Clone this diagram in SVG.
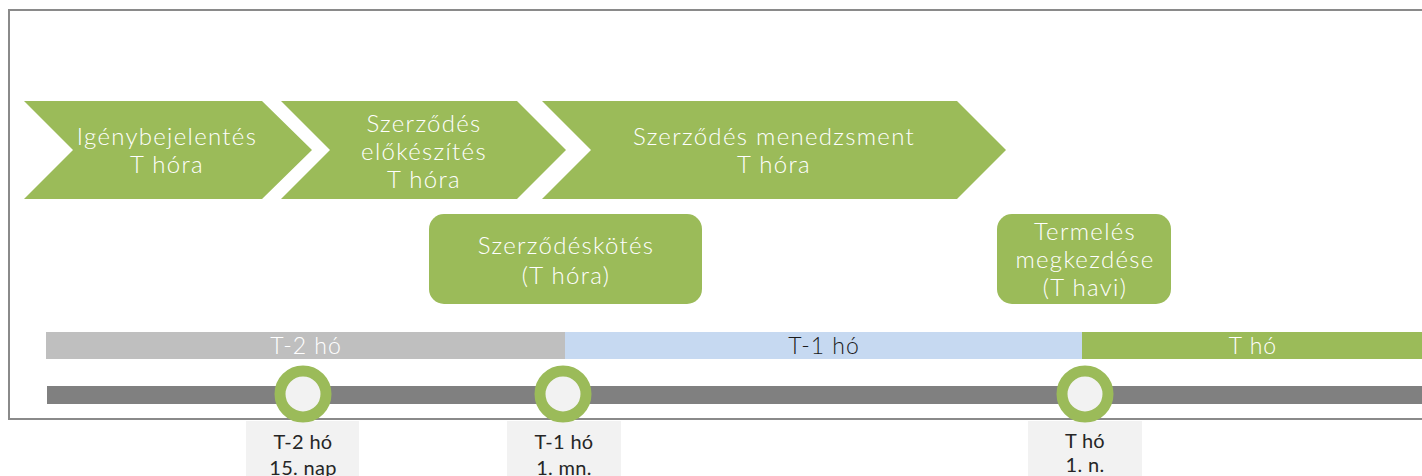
<svg xmlns="http://www.w3.org/2000/svg" width="1422" height="476" viewBox="0 0 1422 476">
  <style>
    .chev { fill: #9bbb59; }
    .rbox { fill: #9bbb59; }
    .wt { font-family: "Lato", "DejaVu Sans", sans-serif; font-weight: 300; font-size: 24px; letter-spacing: 1.3px; fill: #ffffff; text-anchor: middle; }
    .bt { font-family: "Lato", "DejaVu Sans", sans-serif; font-weight: 300; font-size: 23px; letter-spacing: 1px; text-anchor: middle; }
    .lt { font-family: "Lato", "DejaVu Sans", sans-serif; font-size: 20px; letter-spacing: 0.3px; fill: #262626; text-anchor: middle; }
    .lbox { fill: #f2f2f2; }
    .ring { fill: #f2f2f2; stroke: #9bbb59; stroke-width: 11; }
  </style>
  <rect width="1422" height="476" fill="#ffffff"/>
  <rect id="frame" x="9" y="10" width="1430" height="409" fill="none" stroke="#8a8a8a" stroke-width="2"/>

  <g id="phase-igenybejelentes">
    <polygon class="chev" points="24,101 262,101 312,150 262,199 24,199 73,150"/>
    <text class="wt" x="167" y="145">Igénybejelentés</text>
    <text class="wt" x="167" y="173">T hóra</text>
  </g>
  <g id="phase-szerzodes-elokeszites">
    <polygon class="chev" points="281,101 517,101 566,150 517,199 281,199 330,150"/>
    <text class="wt" x="424" y="132">Szerződés</text>
    <text class="wt" x="424" y="160">előkészítés</text>
    <text class="wt" x="424" y="188">T hóra</text>
  </g>
  <g id="phase-szerzodes-menedzsment">
    <polygon class="chev" points="542,101 957,101 1006,150 957,199 542,199 591,150"/>
    <text class="wt" x="774" y="145">Szerződés menedzsment</text>
    <text class="wt" x="774" y="173">T hóra</text>
  </g>

  <g id="event-szerzodeskotes">
    <rect class="rbox" x="429" y="214" width="273" height="90" rx="15" ry="15"/>
    <text class="wt" x="566" y="254">Szerződéskötés</text>
    <text class="wt" x="566" y="284">(T hóra)</text>
  </g>
  <g id="event-termeles">
    <rect class="rbox" x="997" y="214" width="174" height="90" rx="15" ry="15"/>
    <text class="wt" x="1085" y="240">Termelés</text>
    <text class="wt" x="1085" y="268">megkezdése</text>
    <text class="wt" x="1085" y="296">(T havi)</text>
  </g>

  <g id="period-t2">
    <rect x="46" y="332" width="519" height="27" fill="#bfbfbf"/>
    <text class="bt" x="306" y="354" fill="#ffffff">T-2 hó</text>
  </g>
  <g id="period-t1">
    <rect x="565" y="332" width="517" height="27" fill="#c6d9f1"/>
    <text class="bt" x="824" y="354" fill="#1a1a1a">T-1 hó</text>
  </g>
  <g id="period-t">
    <rect x="1082" y="332" width="340" height="27" fill="#9bbb59"/>
    <text class="bt" x="1253" y="354" fill="#ffffff">T hó</text>
  </g>

  <g id="label-t2-15">
    <rect class="lbox" x="246" y="421" width="113" height="60"/>
    <text class="lt" x="303" y="449">T-2 hó</text>
    <text class="lt" x="303" y="475">15. nap</text>
  </g>
  <g id="label-t1-1">
    <rect class="lbox" x="507" y="421" width="114" height="60"/>
    <text class="lt" x="564" y="449">T-1 hó</text>
    <text class="lt" x="564" y="475">1. mn.</text>
  </g>
  <g id="label-t-1">
    <rect class="lbox" x="1028" y="421" width="114" height="60"/>
    <text class="lt" x="1085" y="448">T hó</text>
    <text class="lt" x="1085" y="472">1. n.</text>
  </g>

  <g id="connectors">
    <rect id="timeline-axis" x="47" y="386" width="1375" height="18" fill="#808080"/>
  </g>

  <g id="milestone-1">
    <circle class="ring" cx="303" cy="394" r="23"/>
  </g>
  <g id="milestone-2">
    <circle class="ring" cx="563" cy="394" r="23"/>
  </g>
  <g id="milestone-3">
    <circle class="ring" cx="1085" cy="394" r="23"/>
  </g>
</svg>
